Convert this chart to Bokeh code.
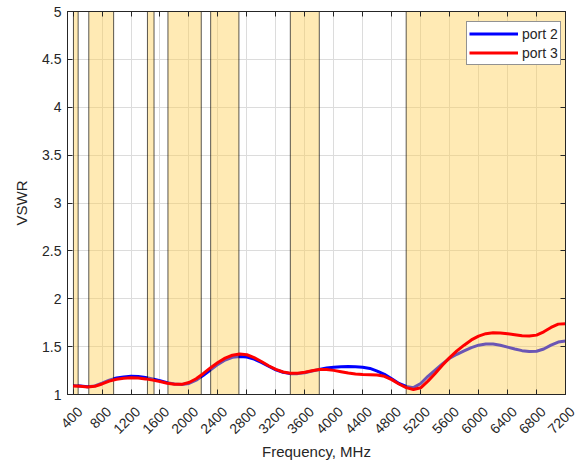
import numpy as np
from bokeh.plotting import figure
from bokeh.models import (LinearAxis, FixedTicker, NumeralTickFormatter, CustomJSTickFormatter,
                          ColumnDataSource, Legend, LegendItem)
from bokeh.embed import file_html
from bokeh.resources import INLINE
from math import pi

# ---------------- data ----------------
freq_mhz = [400, 500, 600, 700, 800, 900, 1000, 1100, 1200, 1300, 1400, 1500, 1600, 1700,
            1800, 1900, 2000, 2100, 2200, 2300, 2400, 2500, 2600, 2700, 2800, 2900, 3000,
            3100, 3200, 3300, 3400, 3500, 3600, 3700, 3800, 3900, 4000, 4100, 4200, 4300,
            4400, 4500, 4600, 4700, 4800, 4900, 5000, 5100, 5200, 5300, 5400, 5500, 5600,
            5700, 5800, 5900, 6000, 6100, 6200, 6300, 6400, 6500, 6600, 6700, 6800, 6900,
            7000, 7100, 7200]

vswr_port2 = [1.095, 1.090, 1.082, 1.090, 1.118, 1.150, 1.172, 1.184, 1.190, 1.187, 1.178,
              1.163, 1.144, 1.124, 1.110, 1.105, 1.115, 1.150, 1.200, 1.258, 1.315, 1.360,
              1.388, 1.398, 1.392, 1.370, 1.335, 1.295, 1.258, 1.232, 1.218, 1.218, 1.228,
              1.245, 1.262, 1.276, 1.285, 1.290, 1.292, 1.290, 1.285, 1.272, 1.245, 1.210,
              1.165, 1.115, 1.085, 1.072, 1.115, 1.190, 1.255, 1.320, 1.378, 1.420, 1.455,
              1.490, 1.515, 1.528, 1.528, 1.515, 1.495, 1.475, 1.458, 1.448, 1.452, 1.475,
              1.515, 1.548, 1.558]

vswr_port3 = [1.090, 1.086, 1.078, 1.085, 1.110, 1.140, 1.160, 1.170, 1.175, 1.172, 1.163,
              1.150, 1.135, 1.118, 1.106, 1.106, 1.125, 1.165, 1.220, 1.280, 1.335, 1.380,
              1.410, 1.422, 1.415, 1.385, 1.345, 1.300, 1.262, 1.235, 1.222, 1.222, 1.232,
              1.248, 1.260, 1.262, 1.252, 1.238, 1.224, 1.214, 1.208, 1.206, 1.204, 1.190,
              1.155, 1.110, 1.072, 1.052, 1.070, 1.140, 1.220, 1.305, 1.385, 1.455, 1.515,
              1.570, 1.610, 1.635, 1.645, 1.643, 1.635, 1.625, 1.614, 1.610, 1.620, 1.655,
              1.700, 1.735, 1.740]

band_start = [405, 617, 1427, 1710, 2300, 3400, 5000]
band_end = [470, 960, 1518, 2170, 2690, 3800, 7200]

x_ticks = list(range(400, 7201, 400))
y_ticks = [1, 1.5, 2, 2.5, 3, 3.5, 4, 4.5, 5]

# ---------------- figure ----------------
TXT = "#262626"
FONT = "Liberation Sans"
Y0, Y1 = 1, 5

p = figure(frame_width=498, frame_height=383, x_range=(323, 7200), y_range=(Y0, Y1),
           output_backend="svg", toolbar_location=None,
           min_border_left=67, min_border_right=13, min_border_top=11, min_border_bottom=72,
           background_fill_color="white", border_fill_color="white")

p.outline_line_color = TXT
p.outline_line_width = 1

blank = CustomJSTickFormatter(code="return ''")

xa = p.xaxis[0]
xa.ticker = FixedTicker(ticks=x_ticks)
# a leading empty line nudges the rotated labels down-right, as MATLAB places them
xa.formatter = CustomJSTickFormatter(code="return '\\n' + tick.toFixed(0)")
xa.major_tick_in = 5
xa.major_tick_out = 0
xa.minor_tick_line_color = None
xa.axis_line_color = TXT
xa.major_tick_line_color = TXT
xa.major_label_orientation = pi / 4
xa.major_label_standoff = 8
xa.major_label_text_color = TXT
xa.major_label_text_font = FONT
xa.major_label_text_font_size = "14px"
xa.axis_label = "Frequency, MHz"
xa.axis_label_standoff = -9
xa.axis_label_text_font = FONT
xa.axis_label_text_font_size = "15px"
xa.axis_label_text_font_style = "normal"
xa.axis_label_text_color = TXT

ya = p.yaxis[0]
ya.ticker = FixedTicker(ticks=y_ticks)
ya.formatter = NumeralTickFormatter(format="0.[0]")
ya.major_tick_in = 5
ya.major_tick_out = 0
ya.minor_tick_line_color = None
ya.axis_line_color = TXT
ya.major_tick_line_color = TXT
ya.major_label_text_color = TXT
ya.major_label_text_font = FONT
ya.major_label_text_font_size = "14px"
ya.major_label_standoff = 6
ya.axis_label = "VSWR"
ya.axis_label_standoff = 9
ya.axis_label_text_font = FONT
ya.axis_label_text_font_size = "15px"
ya.axis_label_text_font_style = "normal"
ya.axis_label_text_color = TXT

top_ax = LinearAxis(ticker=FixedTicker(ticks=x_ticks), formatter=blank,
                    major_tick_in=5, major_tick_out=0, minor_tick_line_color=None,
                    axis_line_color=TXT, major_tick_line_color=TXT,
                    major_label_standoff=0, major_label_text_font_size="0px")
right_ax = LinearAxis(ticker=FixedTicker(ticks=y_ticks), formatter=blank,
                      major_tick_in=5, major_tick_out=0, minor_tick_line_color=None,
                      axis_line_color=TXT, major_tick_line_color=TXT,
                      major_label_standoff=0, major_label_text_font_size="0px")
p.add_layout(top_ax, "above")
p.add_layout(right_ax, "right")

p.xgrid.ticker = FixedTicker(ticks=x_ticks)
p.ygrid.ticker = FixedTicker(ticks=y_ticks)
p.grid.grid_line_color = "#DCDCDC"
p.grid.grid_line_width = 1

src = ColumnDataSource(dict(f=freq_mhz, p2=vswr_port2, p3=vswr_port3))
bands = ColumnDataSource(dict(left=band_start, right=band_end,
                              bottom=[Y0] * len(band_start), top=[Y1] * len(band_start)))

l2 = p.line("f", "p2", source=src, line_color="#0000FF", line_width=3)
p.quad(left="left", right="right", bottom="bottom", top="top", source=bands,
       fill_color="#FFCC4D", fill_alpha=0.42, line_color="black", line_alpha=0.65,
       line_width=1)
l3 = p.line("f", "p3", source=src, line_color="#FF0000", line_width=3)

legend = Legend(items=[LegendItem(label="port 2", renderers=[l2]),
                       LegendItem(label="port 3", renderers=[l3])],
                location=(399, 329))
legend.margin = 0
legend.padding = 2
legend.spacing = 0
legend.glyph_width = 49
legend.glyph_height = 19
legend.label_height = 19
legend.label_standoff = 4
legend.label_text_font = FONT
legend.label_text_font_size = "14px"
legend.label_text_color = TXT
legend.border_line_color = TXT
legend.border_line_width = 1
legend.background_fill_color = "white"
legend.background_fill_alpha = 1
p.add_layout(legend, "center")

open("out.html", "w").write(file_html(p, INLINE))
